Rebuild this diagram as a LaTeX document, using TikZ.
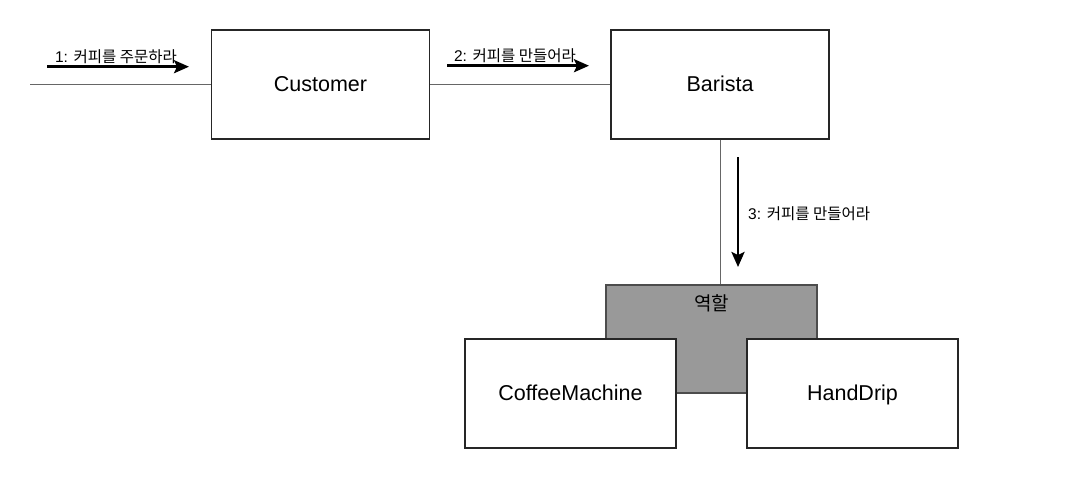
\documentclass[tikz,border=0pt]{standalone}
\usepackage{fontspec}
\setmainfont{Liberation Sans}
\newfontfamily\kr{Noto Sans CJK KR}
\usetikzlibrary{arrows.meta}
\tikzset{
  box/.style={draw=black!85, line width=1.1pt, fill=white, minimum width=218pt, minimum height=109pt, inner sep=0pt, text height=17pt, text depth=3pt, font=\fontsize{21.5}{24}\selectfont},
  rolebox/.style={draw=black!70, line width=1.1pt, fill=black!40, minimum width=211pt, minimum height=108pt, inner sep=0pt},
  conn/.style={draw=black!60, line width=1pt},
  msg/.style={line width=2.6pt, -{Stealth[length=15pt,width=13pt,inset=3pt]}},
  lbl/.style={font=\fontsize{15.5}{18}\selectfont, inner sep=1pt}
}
\begin{document}
\begin{tikzpicture}[x=1pt,y=-1pt]
\useasboundingbox (0,0) rectangle (1084,501);
\node[box] (cust) at (320.5,84.5) {Customer};
\node[box] (bar) at (720,84.5) {Barista};
\node[rolebox] (role) at (711.5,339) {};
\node[font=\kr\fontsize{19}{22}\selectfont, anchor=center] (roletxt) at (711.5,303) {역할};
\node[box, minimum width=211pt] (cm) at (570.5,393.5) {CoffeeMachine};
\node[box, minimum width=211pt] (hd) at (852.5,393.5) {HandDrip};

\coordinate (start) at (30,84.5);
\draw[conn] (start) -- (cust.west);
\draw[conn] (cust.east) -- (bar.west);
\draw[conn] (bar.south) -- (bar.south |- role.north);

\coordinate (a1s) at (47,66.7);
\coordinate (a1e) at (189,66.7);
\draw[msg] (a1s) -- (a1e);
\node[lbl, anchor=south] (l1) at (116,65) {1: {\kr 커피를 주문하라}};

\coordinate (a2s) at (447,65.7);
\coordinate (a2e) at (589,65.7);
\draw[msg] (a2s) -- (a2e);
\node[lbl, anchor=south] (l2) at (515,64) {2: {\kr 커피를 만들어라}};

\coordinate (a3s) at (738,157);
\coordinate (a3e) at (738,267);
\draw[msg] (a3s) -- (a3e);
\node[lbl, anchor=west] (l3) at (747,214) {3: {\kr 커피를 만들어라}};
\end{tikzpicture}
\end{document}
